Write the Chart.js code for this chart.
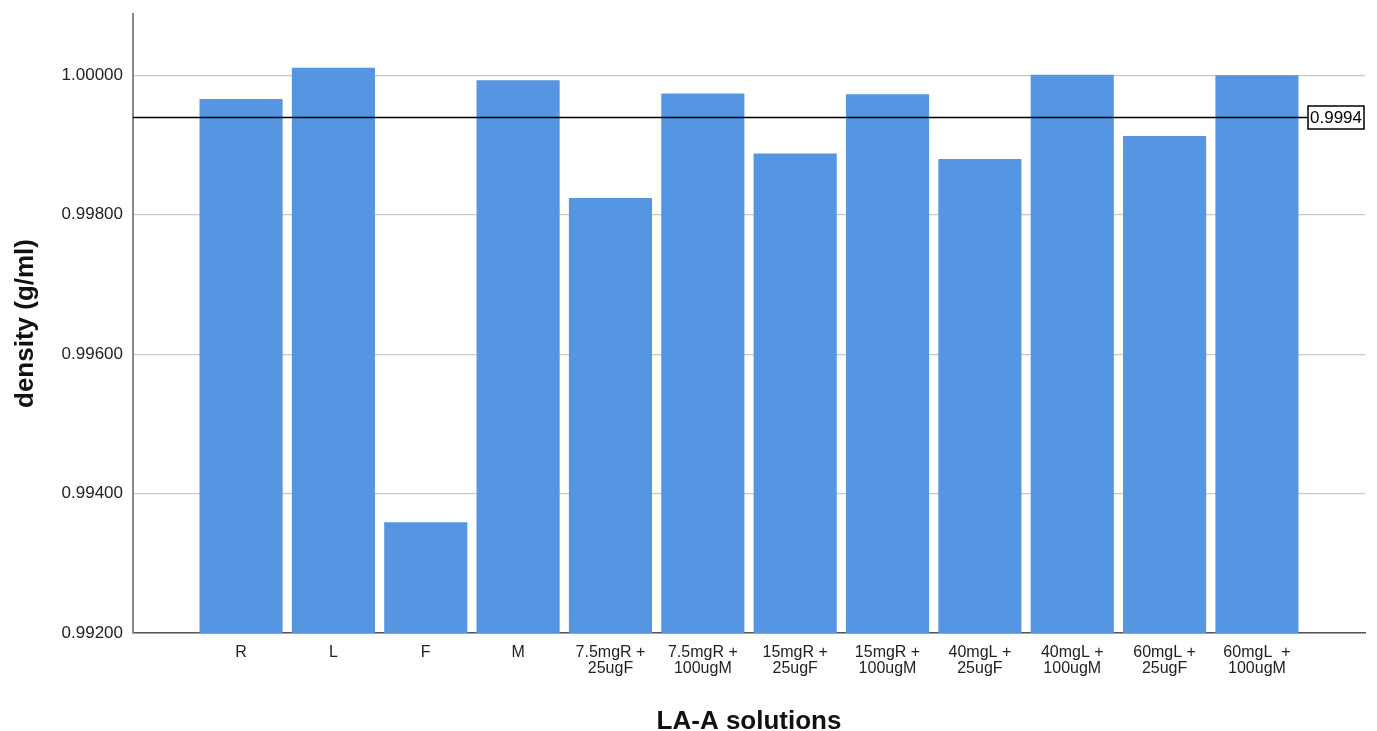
<!DOCTYPE html>
<html>
<head>
<meta charset="utf-8">
<title>Density of LA-A solutions</title>
<script src="https://cdn.jsdelivr.net/npm/chart.js@4.4.1/dist/chart.umd.min.js"></script>
<style>
  html, body { margin: 0; padding: 0; background: #ffffff; }
  #wrap { width: 1377px; height: 731px; }
</style>
</head>
<body>
<div id="wrap"><canvas id="chart" width="1377" height="731"></canvas></div>
<script>
// Solutions on the x axis (each label split over two lines where needed)
const SOLUTIONS = [
  ['R'], ['L'], ['F'], ['M'],
  ['7.5mgR +', '25ugF'], ['7.5mgR +', '100ugM'],
  ['15mgR +', '25ugF'], ['15mgR +', '100ugM'],
  ['40mgL +', '25ugF'], ['40mgL +', '100ugM'],
  ['60mgL +', '25ugF'], ['60mgL  +', '100ugM']
];

// Measured density, g/ml
const DENSITY = [
  0.99966, 1.00011, 0.99359, 0.99993,
  0.99824, 0.99974, 0.99888, 0.99973,
  0.99880, 1.00001, 0.99913, 1.00000
];

// Y-axis range and tick step
const Y_MIN = 0.992;
const Y_MAX = 1.00088;
const Y_STEP = 0.002;

// Horizontal reference line
const REF_VALUE = 0.9994;
const REF_LABEL = '0.9994';

const FONT = '"Liberation Sans", Arial, Helvetica, sans-serif';

const refLine = {
  id: 'refLine',
  afterDatasetsDraw(chart) {
    const { ctx, chartArea } = chart;
    const y = Math.round(chart.scales.y.getPixelForValue(REF_VALUE)) + 0.5;
    ctx.save();
    ctx.font = '17px ' + FONT;
    const tw = ctx.measureText(REF_LABEL).width;
    const boxW = tw + 4;
    const boxH = 23;
    const boxX = chartArea.right - boxW - 1;
    // line
    ctx.strokeStyle = '#000000';
    ctx.lineWidth = 1.6;
    ctx.beginPath();
    ctx.moveTo(chartArea.left, y);
    ctx.lineTo(boxX, y);
    ctx.stroke();
    // label box
    ctx.fillStyle = '#ffffff';
    ctx.fillRect(boxX, y - boxH / 2, boxW, boxH);
    ctx.lineWidth = 1.5;
    ctx.strokeRect(boxX, y - boxH / 2, boxW, boxH);
    ctx.fillStyle = '#000000';
    ctx.textAlign = 'center';
    ctx.textBaseline = 'middle';
    ctx.fillText(REF_LABEL, boxX + boxW / 2, y + 1);
    ctx.restore();
  }
};

new Chart(document.getElementById('chart'), {
  type: 'bar',
  data: {
    datasets: [{
      data: SOLUTIONS.map((_, i) => ({ x: i, y: DENSITY[i] })),
      backgroundColor: '#5595e2',
      borderWidth: 0,
      barPercentage: 0.9,
      categoryPercentage: 1.0
    }]
  },
  options: {
    responsive: false,
    animation: false,
    layout: { padding: { top: 14, right: 12, left: 0, bottom: 0 } },
    plugins: {
      legend: { display: false },
      tooltip: { enabled: false }
    },
    scales: {
      x: {
        type: 'linear',
        offset: false,
        min: -1.17,
        max: SOLUTIONS.length - 1 + 1.17,
        afterFit(scale) {
          scale.height = 98;
          scale.paddingLeft = 0;
          scale.paddingRight = 0;
        },
        grid: { display: false, drawTicks: false, offset: false },
        border: { display: true, color: '#555555', width: 1.5 },
        ticks: {
          stepSize: 1,
          includeBounds: false,
          autoSkip: false,
          maxRotation: 0,
          minRotation: 0,
          padding: 12,
          color: '#222222',
          font: { family: FONT, size: 16, lineHeight: 1.0 },
          callback(value) {
            return Number.isInteger(value) && SOLUTIONS[value] ? SOLUTIONS[value] : '';
          }
        },
        title: {
          display: true,
          text: 'LA-A solutions',
          color: '#111111',
          font: { family: FONT, size: 26, weight: 'bold', lineHeight: 1.0 },
          padding: { top: 0, bottom: -4 }
        }
      },
      y: {
        min: Y_MIN,
        max: Y_MAX,
        afterFit(scale) {
          scale.width = 133;
          scale.paddingTop = 0;
          scale.paddingBottom = 0;
        },
        grid: { color: '#c8c8c8', lineWidth: 1.2, drawTicks: false },
        border: { display: true, color: '#888888', width: 2 },
        ticks: {
          stepSize: Y_STEP,
          includeBounds: false,
          padding: 10,
          color: '#222222',
          font: { family: FONT, size: 17 },
          callback(value) { return Number(value).toFixed(5); }
        },
        title: {
          display: true,
          text: 'density (g/ml)',
          color: '#111111',
          font: { family: FONT, size: 26, weight: 'bold', lineHeight: 1.2 },
          padding: { top: 10, bottom: 0 }
        }
      }
    }
  },
  plugins: [refLine]
});
</script>
</body>
</html>
